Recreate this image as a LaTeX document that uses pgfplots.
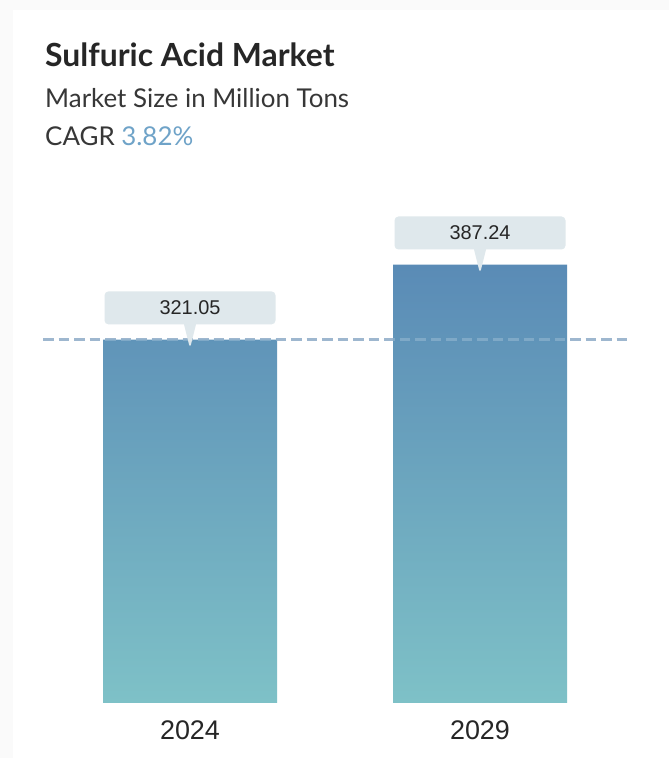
\documentclass[border=0pt]{standalone}
\usepackage{pgfplots}
\pgfplotsset{compat=1.18}
\usepackage{fontspec}
\setmainfont{Lato}
\newfontfamily\numfont{Liberation Sans}
\usetikzlibrary{shapes.callouts}
\definecolor{bartop}{RGB}{90,139,182}
\definecolor{barbot}{RGB}{126,193,199}
\definecolor{callout}{RGB}{223,232,236}
\definecolor{dashc}{RGB}{134,166,196}
\definecolor{cagr}{RGB}{111,163,200}
\definecolor{txt}{RGB}{38,38,38}
\definecolor{subtxt}{RGB}{55,55,55}
\definecolor{frame}{RGB}{250,250,250}
\begin{document}
\begin{tikzpicture}
% card background
\fill[frame] (0bp,0bp) rectangle (669bp,758bp);
\fill[white] (13bp,0bp) rectangle (669bp,748bp);
% titles
\node[anchor=base west, inner sep=0pt, text=txt, font=\bfseries\fontsize{32}{38}\selectfont] at (45bp,691bp) {Sulfuric Acid Market};
\node[anchor=base west, inner sep=0pt, text=subtxt, font=\fontsize{26}{31}\selectfont] at (45bp,650bp) {Market Size in Million Tons};
\node[anchor=base west, inner sep=0pt, text=subtxt, font=\fontsize{26}{31}\selectfont] at (45bp,612bp) {CAGR \textcolor{cagr}{3.82\%}};
\begin{axis}[
  at={(42bp,55bp)}, anchor=south west,
  scale only axis, width=585bp, height=503bp,
  xmin=42, xmax=627, ymin=0, ymax=444.4,
  clip=false,
  axis line style={draw=none},
  major tick length=0pt,
  ytick=\empty,
  xtick={190,480},
  xticklabels={2024,2029},
  xticklabel style={anchor=base, yshift=-37bp, text=txt, font=\numfont\fontsize{27}{32}\selectfont},
  /pgf/number format/assume math mode=true,
]
% reference line at the 2024 value (behind bars)
\addplot[dashc, line width=2.5bp, dash pattern=on 10.5bp off 5bp] coordinates {(43,321.05) (627,321.05)};
\addplot[ybar, bar width=174, draw=none, top color=bartop, bottom color=barbot,
  nodes near coords={\pgfmathprintnumber[fixed,precision=2,fixed zerofill]{\pgfplotspointmeta}},
  every node near coord/.style={shape=rectangle callout, fill=callout, rounded corners=4bp,
    minimum width=171bp, minimum height=33bp, inner sep=0pt, anchor=south, yshift=15bp,
    callout relative pointer={(0bp,-24bp)}, callout pointer width=12bp,
    text=txt, font=\numfont\fontsize{20}{24}\selectfont}]
  coordinates {(190,321.05) (480,387.24)};
% faint dashes across the 2029 bar
\addplot[white, opacity=0.2, line width=2.5bp, dash pattern=on 10.5bp off 5bp] coordinates {(43,321.05) (627,321.05)};
\end{axis}
\end{tikzpicture}
\end{document}
